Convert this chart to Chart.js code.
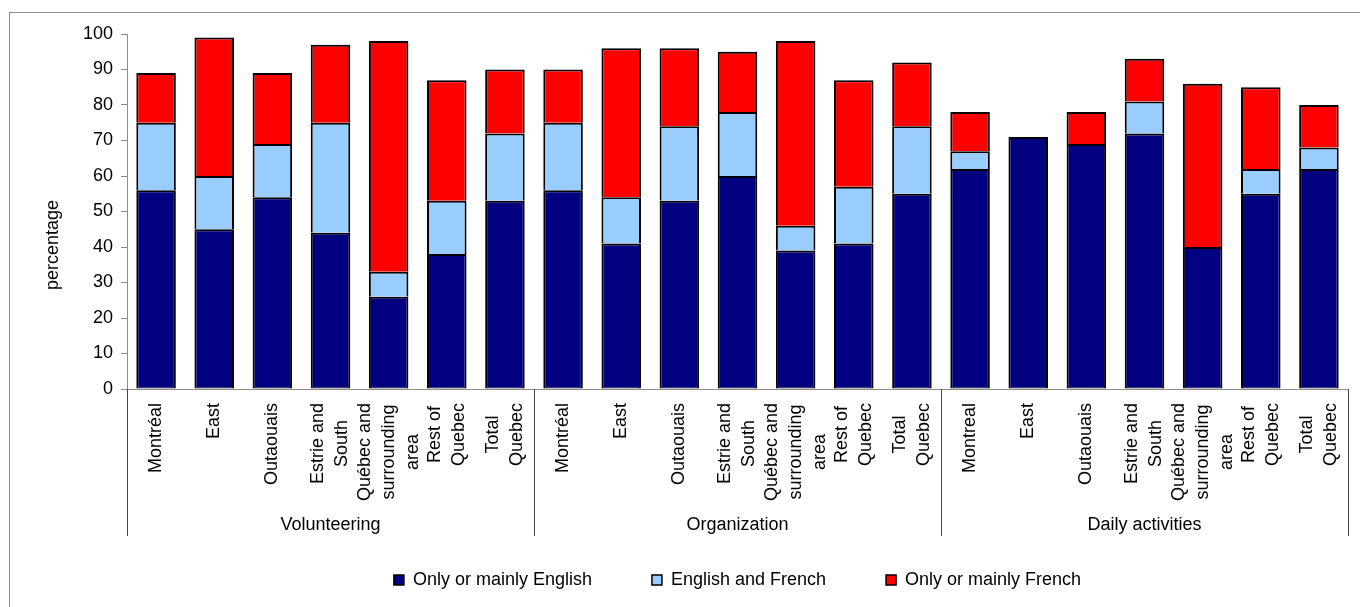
<!DOCTYPE html>
<html>
<head>
<meta charset="utf-8">
<script src="https://cdn.jsdelivr.net/npm/chart.js@4.4.0/dist/chart.umd.min.js"></script>
<style>
    body { margin: 0; background: #fff; }
    #wrap { width: 1360px; height: 607px; }
</style>
</head>
<body>
<div id="wrap"><canvas id="chart" width="1360" height="607"></canvas></div>
<script>
// Category labels (multi-line, drawn rotated under the axis)
const categories = [
    ['Montréal'], ['East'], ['Outaouais'], ['Estrie and', 'South'], ['Québec and', 'surrounding', 'area'], ['Rest of', 'Quebec'], ['Total', 'Quebec'],
    ['Montréal'], ['East'], ['Outaouais'], ['Estrie and', 'South'], ['Québec and', 'surrounding', 'area'], ['Rest of', 'Quebec'], ['Total', 'Quebec'],
    ['Montreal'], ['East'], ['Outaouais'], ['Estrie and', 'South'], ['Québec and', 'surrounding', 'area'], ['Rest of', 'Quebec'], ['Total', 'Quebec']
];
const groups = ['Volunteering', 'Organization', 'Daily activities'];
const groupSizes = [7, 7, 7];

// Series values (percentage)
const onlyEnglish   = [56, 45, 54, 44, 26, 38, 53,  56, 41, 53, 60, 39, 41, 55,  62, 71, 69, 72, 40, 55, 62];
const englishFrench = [19, 15, 15, 31,  7, 15, 19,  19, 13, 21, 18,  7, 16, 19,   5, null, null, 9, null, 7, 6];
const onlyFrench    = [14, 39, 20, 22, 65, 34, 18,  15, 42, 22, 17, 52, 30, 18,  11, null, 9, 12, 46, 23, 12];

const seriesNames = ['Only or mainly English', 'English and French', 'Only or mainly French'];
const yTicks = { min: 0, max: 100, step: 10 };
const yTitle = 'percentage';

const FONT = '"Liberation Sans", Arial, sans-serif';
Chart.defaults.font.family = FONT;
Chart.defaults.font.size = 18;
Chart.defaults.color = '#000';

// Frame, y title, rotated category labels, group separators and group names
const axisDecor = {
    id: 'axisDecor',
    beforeDraw(chart) {
        const ctx = chart.ctx;
        ctx.save();
        ctx.strokeStyle = '#8c8c8c';
        ctx.lineWidth = 1;
        ctx.strokeRect(9.5, 12.5, 1370, 620);
        ctx.restore();
    },
    afterDraw(chart) {
        const ctx = chart.ctx;
        const xs = chart.scales.x;
        const area = chart.chartArea;
        ctx.save();
        ctx.font = '18px ' + FONT;
        ctx.fillStyle = '#000';
        ctx.textAlign = 'center';
        ctx.textBaseline = 'middle';

        // y axis title
        ctx.save();
        ctx.translate(53, 245);
        ctx.rotate(-Math.PI / 2);
        ctx.fillText(yTitle, 0, 0);
        ctx.restore();

        categories.forEach((lines, i) => {
            const px = xs.getPixelForValue(i);
            const w = Math.max(...lines.map(l => ctx.measureText(l).width));
            ctx.save();
            ctx.translate(px, area.bottom + 14);
            ctx.rotate(-Math.PI / 2);
            lines.forEach((l, j) => {
                ctx.fillText(l, -w / 2, (j - (lines.length - 1) / 2) * 24);
            });
            ctx.restore();
        });

        // group boundaries
        const edges = [area.left];
        let idx = 0;
        groupSizes.forEach((n, g) => {
            idx += n;
            if (g < groupSizes.length - 1) {
                edges.push((xs.getPixelForValue(idx - 1) + xs.getPixelForValue(idx)) / 2);
            }
        });
        edges.push(area.right);

        ctx.strokeStyle = '#444';
        ctx.lineWidth = 1;
        edges.forEach(ex => {
            const x = Math.round(ex) + 0.5;
            ctx.beginPath();
            ctx.moveTo(x, area.bottom);
            ctx.lineTo(x, area.bottom + 147);
            ctx.stroke();
        });

        groups.forEach((name, g) => {
            ctx.fillText(name, (edges[g] + edges[g + 1]) / 2, area.bottom + 136);
        });
        ctx.restore();
    }
};

// one shared 2px line between stacked segments: no bottom border on upper segments
function barStyle(bottom) {
    return {
        borderColor: '#000',
        borderWidth: { top: 2, left: 2, right: 2, bottom: bottom },
        borderSkipped: false,
        categoryPercentage: 1,
        barPercentage: 0.68
    };
}

new Chart(document.getElementById('chart'), {
    type: 'bar',
    data: {
        labels: categories.map(c => c.join(' ')),
        datasets: [
            Object.assign({ label: seriesNames[0], data: onlyEnglish, backgroundColor: '#000080' }, barStyle(1)),
            Object.assign({ label: seriesNames[1], data: englishFrench, backgroundColor: '#99ccff' }, barStyle(0)),
            Object.assign({ label: seriesNames[2], data: onlyFrench, backgroundColor: '#ff0000' }, barStyle(0))
        ]
    },
    options: {
        responsive: false,
        animation: false,
        devicePixelRatio: 1,
        layout: { padding: { left: 10, top: 34, right: 12, bottom: 8 } },
        plugins: {
            tooltip: { enabled: false },
            legend: {
                position: 'bottom',
                fullSize: false,
                labels: {
                    boxWidth: 10,
                    boxHeight: 10,
                    padding: 60,
                    font: { size: 18 },
                    color: '#000',
                    generateLabels: chart => chart.data.datasets.map((ds, i) => ({
                        text: ds.label,
                        fillStyle: ds.backgroundColor,
                        strokeStyle: '#000',
                        lineWidth: 1.5,
                        datasetIndex: i,
                        hidden: false
                    }))
                }
            }
        },
        scales: {
            x: {
                stacked: true,
                ticks: { display: false },
                grid: { display: false },
                border: { color: '#8c8c8c', width: 1 },
                afterFit: s => { s.height = 122; }
            },
            y: {
                stacked: true,
                min: yTicks.min,
                max: yTicks.max,
                ticks: { stepSize: yTicks.step, padding: 8, color: '#000', font: { size: 18 } },
                grid: { drawOnChartArea: false, tickLength: 6, color: '#8c8c8c' },
                border: { color: '#8c8c8c', width: 1 },
                afterFit: s => { s.width = 117; }
            }
        }
    },
    plugins: [axisDecor]
});
</script>
</body>
</html>
